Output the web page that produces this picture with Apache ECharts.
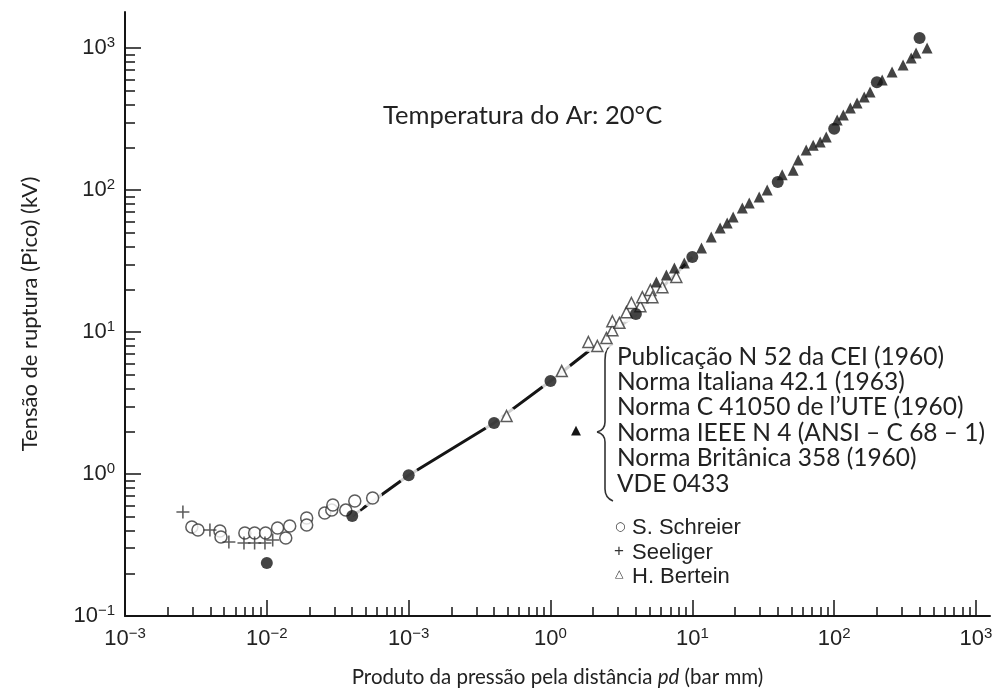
<!DOCTYPE html>
<html>
<head>
<meta charset="utf-8">
<title>Tensão de ruptura do ar</title>
<script src="https://cdn.jsdelivr.net/npm/echarts@6/dist/echarts.min.js"></script>
<style>
  html, body { margin: 0; padding: 0; background: #fff; }
  #main { width: 997px; height: 695px; }
</style>
</head>
<body>
<div id="main"></div>
<script>
// valores: pd (bar mm) e tensão de ruptura (kV)
// curva normalizada (círculos cheios)
const circX = [0.01, 0.04, 0.1, 0.4, 1, 4, 10, 40, 100, 200, 400];
const circY = [0.236, 0.506, 0.98, 2.29, 4.52, 13.4, 33.7, 114, 270, 575, 1175];

// normas (triângulos cheios)
const triX = [5.58, 6.56, 7.47, 8.78, 11.6, 13.6, 15.7, 17.6, 19.4, 22.5, 25.2, 29.6, 33.7, 43.0, 51.4, 55.8,
  63.5, 71.1, 79.7, 87.9, 105, 116, 130, 145, 163, 179, 218, 256, 306, 349, 378, 452];
const triY = [22.5, 25.2, 28.2, 30.6, 39.0, 46.7, 54.0, 58.6, 64.5, 74.7, 81.0, 89.3, 100, 128, 138, 163,
  191, 207, 218, 236, 311, 338, 378, 410, 452, 490, 595, 678, 759, 851, 922, 1000];

// S. Schreier
const schreierX = [0.00296, 0.00327, 0.00467, 0.00475, 0.0070, 0.0082, 0.0098, 0.0119, 0.0136, 0.0145,
  0.0191, 0.0191, 0.0256, 0.0287, 0.0292, 0.036, 0.0417, 0.0557];
const schreierY = [0.423, 0.403, 0.397, 0.360, 0.384, 0.384, 0.384, 0.417, 0.354, 0.430,
  0.490, 0.437, 0.531, 0.557, 0.605, 0.557, 0.645, 0.678];

// Seeliger
const seeligerX = [0.00256, 0.00397, 0.0054, 0.0069, 0.0082, 0.0097, 0.0110];
const seeligerY = [0.540, 0.403, 0.332, 0.327, 0.327, 0.327, 0.343];

// H. Bertein
const berteinX = [0.49, 1.20, 1.85, 2.14, 2.48, 2.73, 2.73, 3.06, 3.43, 3.72, 4.30, 4.44, 5.06, 5.23, 6.15, 7.71];
const berteinY = [2.56, 5.31, 8.5, 7.97, 9.07, 10.3, 11.9, 11.6, 13.8, 16.0, 15.2, 17.6, 19.8, 17.6, 20.7, 24.4];

// linha entre os pontos da curva
const lineX = [0.04, 0.1, 0.4, 1, 4, 10];
const lineY = [0.506, 0.98, 2.29, 4.52, 13.4, 33.7];

// marcas dos eixos
const xTickVals = [0.001, 0.01, 0.1, 1, 10, 100, 1000];
const xTickExp = ['−3', '−2', '−3', '0', '1', '2', '3'];
const yTickVals = [0.1, 1, 10, 100, 1000];
const yTickExp = ['−1', '0', '1', '2', '3'];
const minorSteps = [2, 3, 4, 5, 6, 7, 8, 9];

function minorTicks(decades) {
  let out = [];
  decades.slice(0, -1).forEach(d => minorSteps.forEach(m => out.push(d * m)));
  return out;
}

function pairs(xs, ys) {
  return xs.map((x, i) => [x, ys[i]]);
}

var ink = '#151515';
var labelRich = {
  b: {fontSize: 22, fontFamily: 'Liberation Sans', color: '#222', lineHeight: 26},
  s: {fontSize: 15, fontFamily: 'Liberation Sans', color: '#222', lineHeight: 26, verticalAlign: 'top'}
};

var plus = 'path://M4.4,0h1.2v4.4h4.4v1.2h-4.4v4.4h-1.2v-4.4h-4.4v-1.2h4.4z';

var myChart = echarts.init(document.getElementById('main'));
myChart.setOption({
  animation: false,
  backgroundColor: '#fff',
  grid: {left: 125, right: 7, top: 12, bottom: 79, containLabel: false},
  xAxis: [
    {
      type: 'log', min: 0.001, max: 1255,
      axisLine: {onZero: false, lineStyle: {color: ink, width: 2}},
      axisTick: {inside: true, length: 16, customValues: xTickVals, lineStyle: {color: ink, width: 1.5}},
      axisLabel: {
        customValues: xTickVals, margin: 10,
        formatter: v => '{b|10}{s|' + xTickExp[Math.round(Math.log10(v)) + 3] + '}',
        rich: labelRich
      },
      splitLine: {show: false},
      name: 'Produto da pressão pela distância {i|pd} (bar mm)',
      nameLocation: 'middle', nameGap: 51,
      nameTextStyle: {fontSize: 20.5, fontFamily: 'Lato', color: '#222',
        rich: {i: {fontSize: 20.5, fontFamily: 'Lato', fontStyle: 'italic', color: '#222'}}}
    },
    {
      type: 'log', min: 0.001, max: 1255, position: 'bottom',
      axisLine: {show: false, onZero: false},
      axisTick: {inside: true, length: 9, customValues: minorTicks(xTickVals), lineStyle: {color: ink, width: 1.5}},
      axisLabel: {show: false},
      splitLine: {show: false}
    }
  ],
  yAxis: [
    {
      type: 'log', min: 0.1, max: 1793,
      axisLine: {onZero: false, lineStyle: {color: ink, width: 2}},
      axisTick: {inside: true, length: 16, customValues: yTickVals, lineStyle: {color: ink, width: 1.5}},
      axisLabel: {
        customValues: yTickVals, margin: 10,
        formatter: v => '{b|10}{s|' + yTickExp[Math.round(Math.log10(v)) + 1] + '}',
        rich: labelRich
      },
      splitLine: {show: false},
      name: 'Tensão de ruptura (Pico) (kV)',
      nameLocation: 'middle', nameGap: 84,
      nameTextStyle: {fontSize: 22, fontFamily: 'Lato', color: '#222'}
    },
    {
      type: 'log', min: 0.1, max: 1793, position: 'left',
      axisLine: {show: false, onZero: false},
      axisTick: {inside: true, length: 10, customValues: minorTicks(yTickVals), lineStyle: {color: ink, width: 1.5}},
      axisLabel: {show: false},
      splitLine: {show: false}
    }
  ],
  series: [
    {
      type: 'line', data: pairs(lineX, lineY), symbol: 'none', z: 1,
      lineStyle: {color: ink, width: 3}
    },
    {
      // fundo branco que interrompe a linha em volta das marcas
      type: 'scatter', symbol: 'circle', symbolSize: 20, z: 2, silent: true,
      data: pairs(circX, circY).concat(pairs(schreierX, schreierY), pairs(berteinX, berteinY)),
      itemStyle: {color: '#fff'}
    },
    {
      name: 'S. Schreier', type: 'scatter', symbol: 'circle', symbolSize: 12, z: 3,
      data: pairs(schreierX, schreierY),
      itemStyle: {color: '#fff', borderColor: '#333', borderWidth: 1.5}
    },
    {
      name: 'Seeliger', type: 'scatter', symbol: plus, symbolSize: 13, z: 3,
      data: pairs(seeligerX, seeligerY),
      itemStyle: {color: '#333'}
    },
    {
      name: 'H. Bertein', type: 'scatter', symbol: 'triangle', symbolSize: 11, z: 3,
      data: pairs(berteinX, berteinY),
      itemStyle: {color: '#fff', borderColor: '#333', borderWidth: 1.5}
    },
    {
      name: 'Normas', type: 'scatter', symbol: 'triangle', symbolSize: 11, z: 4,
      data: pairs(triX, triY),
      itemStyle: {color: ink}
    },
    {
      name: 'Curva', type: 'scatter', symbol: 'circle', symbolSize: 12, z: 5,
      data: pairs(circX, circY),
      itemStyle: {color: ink}
    }
  ],
  graphic: [
    {type: 'text', left: 383, top: 103,
      style: {text: 'Temperatura do Ar: 20°C', font: '25.5px Lato', fill: '#222'}},
    {type: 'text', left: 617, top: 344,
      style: {text: 'Publicação N 52 da CEI (1960)\nNorma Italiana 42.1 (1963)\nNorma C 41050 de l’UTE (1960)\nNorma IEEE N 4 (ANSI – C 68 – 1)\nNorma Britânica 358 (1960)\nVDE 0433',
        font: '24.5px Lato', lineHeight: 25.4, fill: '#222'}},
    {type: 'text', left: 571, top: 424, style: {text: '▲', font: '13px DejaVu Sans', fill: ink}},
    {type: 'bezierCurve', shape: {x1: 613, y1: 344, cpx1: 607, cpy1: 346, cpx2: 605, cpy2: 351, x2: 605, y2: 360},
      style: {stroke: '#333', lineWidth: 1.6, fill: null}},
    {type: 'line', shape: {x1: 605, y1: 360, x2: 605, y2: 422}, style: {stroke: '#333', lineWidth: 1.6}},
    {type: 'bezierCurve', shape: {x1: 605, y1: 422, cpx1: 605, cpy1: 428, cpx2: 601, cpy2: 431, x2: 597, y2: 432},
      style: {stroke: '#333', lineWidth: 1.6, fill: null}},
    {type: 'bezierCurve', shape: {x1: 597, y1: 432, cpx1: 601, cpy1: 433, cpx2: 605, cpy2: 436, x2: 605, y2: 442},
      style: {stroke: '#333', lineWidth: 1.6, fill: null}},
    {type: 'line', shape: {x1: 605, y1: 442, x2: 605, y2: 489}, style: {stroke: '#333', lineWidth: 1.6}},
    {type: 'bezierCurve', shape: {x1: 605, y1: 489, cpx1: 605, cpy1: 495, cpx2: 608, cpy2: 499, x2: 613, y2: 501},
      style: {stroke: '#333', lineWidth: 1.6, fill: null}},
    {type: 'text', left: 615, top: 521, style: {text: '○', font: '12px DejaVu Sans', fill: '#333'}},
    {type: 'text', left: 614, top: 543, style: {text: '+', font: '17px Liberation Sans', fill: '#333'}},
    {type: 'text', left: 615, top: 569, style: {text: '△', font: '11px DejaVu Sans', fill: '#333'}},
    {type: 'text', left: 632, top: 516,
      style: {text: 'S. Schreier\nSeeliger\nH. Bertein', font: '22px Liberation Sans', lineHeight: 24.5, fill: '#222'}}
  ]
});
</script>
</body>
</html>
